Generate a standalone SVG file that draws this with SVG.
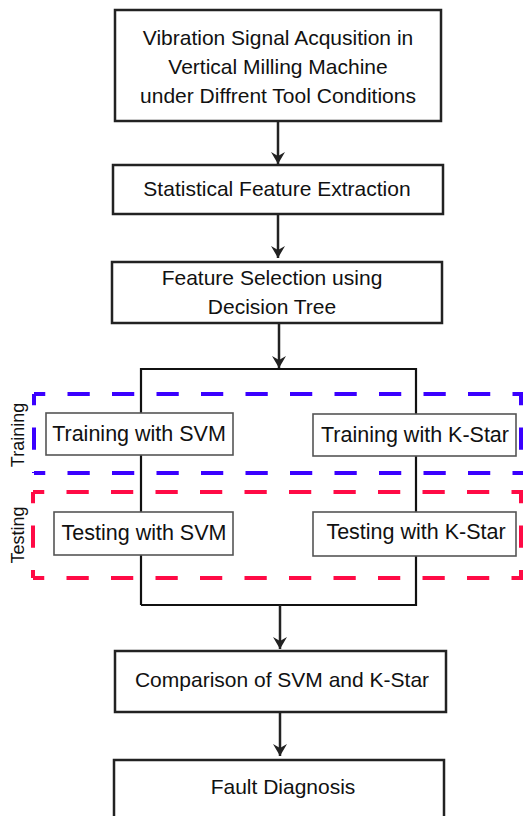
<svg xmlns="http://www.w3.org/2000/svg" width="523" height="816" viewBox="0 0 523 816">
<style>
.box{fill:#fff;stroke:#222;stroke-width:2.5}
.sbox{fill:#fff;stroke:#555;stroke-width:1.6}
.t{font-family:"Liberation Sans",Arial,sans-serif;font-size:21px;fill:#111;text-anchor:middle}
.s{font-family:"Liberation Sans",Arial,sans-serif;font-size:21.5px;fill:#111;text-anchor:middle}
.lab{font-family:"Liberation Sans",Arial,sans-serif;font-size:18px;fill:#111;text-anchor:middle}
.ln{fill:none;stroke:#222;stroke-width:2.5}
.br{fill:none;stroke:#111;stroke-width:2.2}
.dash{fill:none;stroke-width:4;stroke-dasharray:22.25,22.25;stroke-dashoffset:11}
</style>
<defs>
<marker id="ah" markerWidth="14" markerHeight="14" viewBox="0 0 14 14" refX="12" refY="7" orient="auto" markerUnits="userSpaceOnUse">
<path d="M0,0 L12,7 L0,14 L4,7 Z" fill="#222"/>
</marker>
</defs>
<g id="groups">
<path class="dash" stroke="#3a00ff" d="M34,394 H523 M34,473 H523 M34,394 V473 M521,394 V473"/>
<path class="dash" stroke="#ff0a45" d="M33,492 H523 M33,578 H523 M33,492 V578 M521,492 V578"/>
<text class="lab" transform="translate(24,435) rotate(-90)">Training</text>
<text class="lab" transform="translate(24,535) rotate(-90)">Testing</text>
</g>
<g id="connectors">
<line class="ln" x1="278" y1="121" x2="278" y2="164" marker-end="url(#ah)"/>
<line class="ln" x1="278" y1="214" x2="278" y2="258" marker-end="url(#ah)"/>
<line class="ln" x1="279" y1="323" x2="279" y2="368" marker-end="url(#ah)"/>
<polyline class="br" points="141,605 141,369 416,369 416,605 141,605"/>
<line class="ln" x1="280" y1="605" x2="280" y2="649" marker-end="url(#ah)"/>
<line class="ln" x1="280" y1="712" x2="280" y2="756" marker-end="url(#ah)"/>
</g>
<g id="n1">
<rect class="box" x="115" y="10" width="326" height="111"/>
<text class="t" x="278" y="45">Vibration Signal Acqusition in</text>
<text class="t" x="278" y="74">Vertical Milling Machine</text>
<text class="t" x="278" y="103">under Diffrent Tool Conditions</text>
</g>
<g id="n2">
<rect class="box" x="113" y="165" width="330" height="49"/>
<text class="t" x="277" y="196">Statistical Feature Extraction</text>
</g>
<g id="n3">
<rect class="box" x="112" y="262" width="330" height="61"/>
<text class="t" x="272" y="285">Feature Selection using</text>
<text class="t" x="272" y="314">Decision Tree</text>
</g>
<g id="n4">
<rect class="sbox" x="46" y="413" width="187" height="42"/>
<text class="s" x="139" y="441">Training with SVM</text>
</g>
<g id="n5">
<rect class="sbox" x="313" y="414" width="203" height="42"/>
<text class="s" x="415" y="442">Training with K-Star</text>
</g>
<g id="n6">
<rect class="sbox" x="54" y="512" width="179" height="43"/>
<text class="s" x="144" y="540">Testing with SVM</text>
</g>
<g id="n7">
<rect class="sbox" x="313" y="512" width="203" height="44"/>
<text class="s" x="416" y="539">Testing with K-Star</text>
</g>
<g id="n8">
<rect class="box" x="115" y="651" width="331" height="61"/>
<text class="t" x="282" y="687">Comparison of SVM and K-Star</text>
</g>
<g id="n9">
<rect class="box" x="114" y="760" width="330" height="70"/>
<text class="t" x="283" y="794">Fault Diagnosis</text>
</g>
</svg>
